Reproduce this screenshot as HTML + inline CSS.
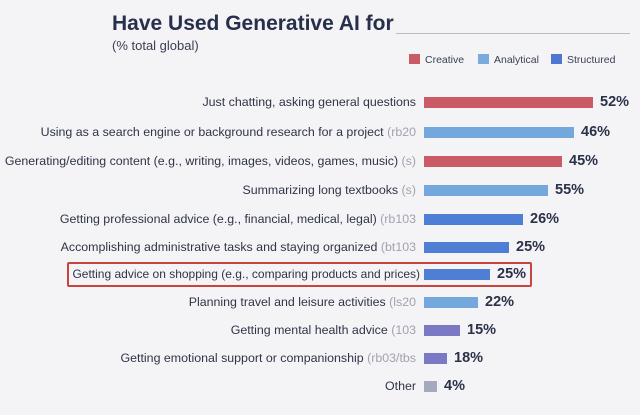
<!DOCTYPE html>
<html><head><style>
body{margin:0;width:640px;height:415px;background:#f4f4f7;font-family:"Liberation Sans",sans-serif;position:relative;overflow:hidden}
.t{position:absolute;left:112px;top:12px;font-size:21px;font-weight:bold;color:#27304a}
.s{position:absolute;left:112px;top:38px;font-size:13px;color:#3a3f52}
.ln{position:absolute;left:396px;top:33px;width:234px;height:1px;background:#b8bac4}
.lg{position:absolute;top:54px;font-size:10.5px;color:#3a3f52}
.lg i{display:inline-block;width:11px;height:10px;vertical-align:-1px;margin-right:5px}
.l{position:absolute;right:224px;font-size:12.4px;line-height:16px;color:#2f3446;white-space:nowrap}
.l span{color:#a0a3ad}
.b{position:absolute;left:424px;height:11px}
.p{position:absolute;font-size:14.5px;line-height:18px;font-weight:bold;color:#2a3148}
.box{position:absolute;left:67px;top:262px;width:465px;height:25px;border:2px solid #c8453f;box-sizing:border-box;border-radius:2px}
</style></head><body>
<div class="t">Have Used Generative AI for</div>
<div class="ln"></div>
<div class="s">(% total global)</div>
<div class="lg" style="left:409px"><i style="background:#c95a66"></i>Creative</div>
<div class="lg" style="left:478px"><i style="background:#7aaade"></i>Analytical</div>
<div class="lg" style="left:551px"><i style="background:#4f76d0"></i>Structured</div>
<div class="box"></div>
<div id="rows"></div>
<script>
var d=[["Just chatting, asking general questions","",593,"52%","#c95a66",102,224,12.4],
["Using as a search engine or background research for a project"," (rb20",574,"46%","#74a7db",132,224,12.4],
["Generating/editing content (e.g., writing, images, videos, games, music)"," (s)",562,"45%","#c95a66",161,224,12.4],
["Summarizing long textbooks"," (s)",548,"55%","#74a7db",190,224,12.4],
["Getting professional advice (e.g., financial, medical, legal)"," (rb103",523,"26%","#4f7fd4",219,224,12.4],
["Accomplishing administrative tasks and staying organized"," (bt103",509,"25%","#4f7fd4",247,224,12.4],
["Getting advice on shopping (e.g., comparing products and prices)","",490,"25%","#4f7fd4",274,220,12],
["Planning travel and leisure activities"," (ls20",478,"22%","#74a7db",302,224,12.4],
["Getting mental health advice"," (103",460,"15%","#7b78c4",330,224,12.4],
["Getting emotional support or companionship"," (rb03/tbs",447,"18%","#7b78c4",358,224,12.4],
["Other","",437,"4%","#a4a9bc",386,224,12.4]];
var h="";d.forEach(function(r){
h+='<div class="l" style="font-size:'+r[7]+'px;right:'+r[6]+'px;top:'+(r[5]-8)+'px">'+r[0]+'<span>'+r[1]+'</span></div>';
h+='<div class="b" style="top:'+(r[5]-5)+'px;width:'+(r[2]-424)+'px;background:'+r[4]+'"></div>';
h+='<div class="p" style="top:'+(r[5]-9)+'px;left:'+(r[2]+7)+'px">'+r[3]+'</div>';});
document.getElementById("rows").innerHTML=h;
</script>
</body></html>
